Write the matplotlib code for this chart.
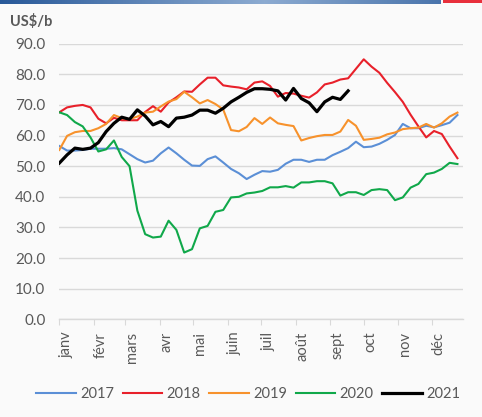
import numpy as np
import matplotlib
matplotlib.use('Agg')
import matplotlib.pyplot as plt
from matplotlib.lines import Line2D

plt.rcParams['font.family'] = ['Lato', 'DejaVu Sans']

# ------------------------------------------------------------
# Données hebdomadaires (US$/b), une valeur par semaine
# ------------------------------------------------------------
months = ['janv', 'févr', 'mars', 'avr', 'mai', 'juin',
          'juil', 'août', 'sept', 'oct', 'nov', 'déc']
month_start_days = [0, 31, 59, 90, 120, 151, 181, 212, 243, 273, 304, 334]

p2017 = [56.6, 55.1, 55.1, 55.3, 55.7, 55.7, 55.7, 55.9, 55.5, 53.9,
         52.3, 51.2, 51.8, 54.2, 56.1, 54.2, 52.1, 50.2, 50.1, 52.3,
         53.2, 51.2, 49.1, 47.7, 45.8, 47.2, 48.4, 48.2, 48.8, 50.8,
         52.1, 52.1, 51.4, 52.1, 52.1, 53.6, 54.7, 55.9, 58.0, 56.2,
         56.4, 57.3, 58.6, 60.2, 63.8, 62.4, 62.4, 63.2, 62.7, 63.4,
         64.2, 66.7]
p2018 = [67.6, 69.2, 69.7, 70.0, 69.2, 65.5, 64.0, 65.8, 65.0, 65.0,
         65.0, 67.7, 69.6, 67.8, 70.8, 72.5, 74.4, 74.3, 76.7, 78.9,
         78.9, 76.4, 76.0, 75.7, 75.1, 77.3, 77.7, 76.2, 72.7, 73.9,
         73.7, 73.0, 72.4, 74.1, 76.7, 77.3, 78.3, 78.7, 81.8, 84.9,
         82.5, 80.5, 77.2, 74.2, 71.0, 66.8, 63.0, 59.4, 61.5, 60.5,
         56.4, 52.6]
p2019 = [55.3, 59.9, 61.1, 61.5, 61.5, 62.4, 63.8, 66.7, 65.7, 65.4,
         66.2, 67.5, 67.8, 69.5, 71.1, 71.9, 74.3, 72.5, 70.5, 71.6,
         70.3, 68.5, 61.8, 61.4, 62.8, 65.7, 63.8, 65.9, 64.0, 63.5,
         63.1, 58.4, 59.2, 59.8, 60.2, 60.2, 61.3, 65.1, 63.2, 58.6,
         58.9, 59.3, 60.4, 61.0, 62.1, 62.4, 62.6, 63.8, 62.6, 64.0,
         66.2, 67.5]
p2020 = [67.6, 66.7, 64.4, 63.0, 59.4, 54.8, 55.5, 58.4, 53.0, 50.0,
         35.5, 27.8, 26.7, 27.0, 32.2, 29.2, 21.8, 22.9, 29.7, 30.5,
         35.1, 35.7, 39.8, 40.0, 41.1, 41.4, 41.9, 43.1, 43.1, 43.5,
         43.0, 44.7, 44.7, 45.1, 45.1, 44.4, 40.4, 41.5, 41.5, 40.6,
         42.2, 42.5, 42.2, 38.9, 39.8, 43.0, 44.2, 47.4, 47.9, 49.1,
         51.1, 50.7]
p2021 = [51.0, 53.7, 55.9, 55.5, 55.9, 57.7, 61.3, 64.0, 66.0, 65.3,
         68.4, 66.4, 63.5, 64.6, 62.9, 65.7, 66.0, 66.7, 68.3, 68.3,
         67.3, 68.9, 71.0, 72.5, 74.1, 75.3, 75.3, 75.1, 74.6, 71.6,
         75.4, 72.1, 70.7, 67.8, 71.0, 72.5, 71.8, 74.6]

series = [
    ('2017', p2017, '#5b8fd6', 1.5),
    ('2018', p2018, '#e8202a', 1.5),
    ('2019', p2019, '#f7922c', 1.5),
    ('2020', p2020, '#10a84a', 1.5),
    ('2021', p2021, '#000000', 2.3),
]

TXT = '#595959'
BG = '#fafafa'

fig = plt.figure(figsize=(4.82, 4.17), dpi=100, facecolor=BG)
ax = fig.add_axes([0.123, 0.2343, 0.8376, 0.6609], facecolor=BG)

for name, vals, color, lw in series:
    days = np.arange(len(vals)) * 7
    ax.plot(days, vals, color=color, lw=lw, solid_joinstyle='round', zorder=3)

ax.set_xlim(0, 362)
ax.set_ylim(0, 90)
ax.set_yticks(np.arange(0, 91, 10))
ax.set_yticklabels([f'{v:.1f}' for v in np.arange(0, 91, 10)])
ax.grid(axis='y', color='#d9d9d9', lw=1)
ax.set_axisbelow(True)

ax.set_xticks(month_start_days)
ax.set_xticklabels(months, rotation=90, ha='left', va='top')
ax.tick_params(axis='x', direction='out', length=4, color='#d9d9d9',
               labelsize=10.5, labelcolor=TXT, pad=5)
ax.tick_params(axis='y', length=0, labelsize=11, labelcolor=TXT, pad=10)

for s in ['top', 'right', 'left']:
    ax.spines[s].set_visible(False)
ax.spines['bottom'].set_color('#d9d9d9')
ax.spines['bottom'].set_linewidth(1)

fig.text(0.021, 0.948, 'US$/b', fontsize=10.5, fontweight='bold', color=TXT,
         va='center', ha='left')

handles = [Line2D([0], [0], color=c, lw=lw) for _, _, c, lw in series]
fig.legend(handles, [s[0] for s in series], loc='center',
           bbox_to_anchor=(0.515, 0.055), ncol=5, frameon=False,
           fontsize=10.5, labelcolor=TXT, handlelength=2.7, handletextpad=0.3,
           columnspacing=0.6)

# bandeau en haut
grad = np.linspace(0, 1, 256)
blue = np.array([0.16, 0.35, 0.6])
light = np.array([0.55, 0.67, 0.82])
prof = 1 - np.abs(grad - 0.6) / 0.6
cols = blue[None, :] + (light - blue)[None, :] * np.clip(prof, 0, 1)[:, None]
bar = fig.add_axes([0, 1 - 4.5 / 417, 441 / 482, 4.5 / 417])
bar.imshow(cols[None, :, :], aspect='auto')
bar.axis('off')
red = fig.add_axes([443 / 482, 1 - 3 / 417, 39 / 482, 3 / 417])
red.set_facecolor('#e8303c')
red.set_xticks([])
red.set_yticks([])
for s in red.spines.values():
    s.set_visible(False)

fig.savefig('out.png', dpi=100, facecolor=BG)
